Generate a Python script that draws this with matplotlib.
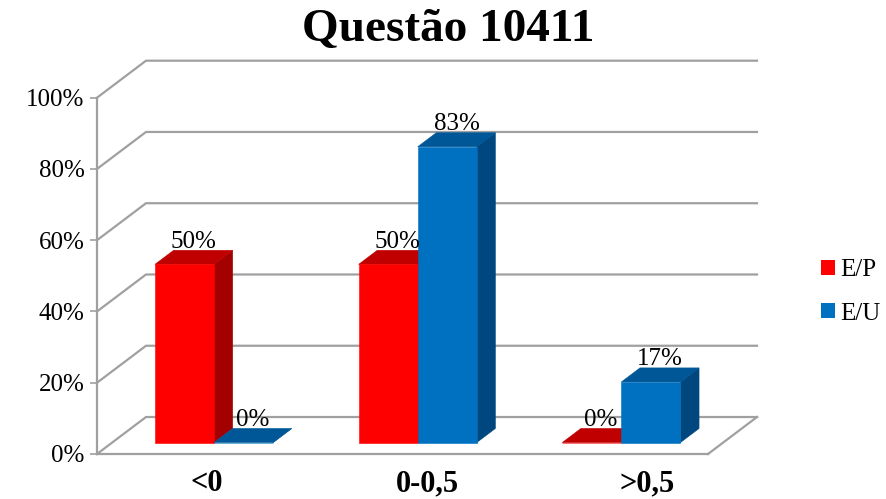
import numpy as np
import matplotlib
matplotlib.use('Agg')
import matplotlib.pyplot as plt
from matplotlib.patches import Polygon, Patch
from matplotlib.ticker import PercentFormatter

plt.rcParams['font.family'] = ['Liberation Serif', 'DejaVu Serif']

# dados
categorias = ['<0', '0-0,5', '>0,5']
series = ['E/P', 'E/U']
valores_ep = [0.50, 0.50, 0.00]
valores_eu = [0.00, 0.83, 0.17]

# cores: frente, lado, topo
cores = {
    'E/P': ('#ff0000', '#a30000', '#c00000'),
    'E/U': ('#0070c0', '#00477f', '#005797'),
}

# projecao obliqua (profundidade em unidades de dados)
DX = 0.2406
DY = 0.1038
D0, D1 = 0.31, 0.69
LARG = 0.29
GRID = '#a0a0a0'


def proj(x, z, d):
    return (x + d * DX, z + d * DY)


fig = plt.figure(figsize=(8.87, 4.99), dpi=100)
W, H = 887, 499
ax = fig.add_axes([97 / W, (H - 454) / H, 660 / W, 393.3 / H])
ax.set_xlim(0, 3 + DX)
ax.set_ylim(0, 1 + DY)
ax.patch.set_alpha(0)

# paredes / grade
niveis = np.arange(0, 1.01, 0.2)
for v in niveis:
    pts = [proj(0, v, 0), proj(0, v, 1), proj(3, v, 1)]
    ax.plot(*zip(*pts), color=GRID, lw=1.6, clip_on=False, zorder=1,
            solid_joinstyle='miter')
# borda direita do piso
ax.plot(*zip(proj(3, 0, 0), proj(3, 0, 1)), color=GRID, lw=1.6,
        clip_on=False, zorder=1)

for s in ['top', 'right']:
    ax.spines[s].set_visible(False)
ax.spines['left'].set_bounds(0, 1)
ax.spines['bottom'].set_bounds(0, 3)
for s in ['left', 'bottom']:
    ax.spines[s].set_color(GRID)
    ax.spines[s].set_linewidth(1.6)

ax.set_yticks(niveis)
ax.yaxis.set_major_formatter(PercentFormatter(1.0, decimals=0))
ax.tick_params(axis='y', direction='out', length=5, width=1.2, color=GRID,
               labelsize=18, pad=4)
# rotulos das categorias repartidos pela largura total projetada
n = len(categorias)
ax.set_xticks((np.arange(n) + 0.5) * (n + DX) / n)
ax.set_xticklabels(categorias, fontsize=22, fontweight='bold')
ax.tick_params(axis='x', length=0, pad=11)


def barra(x0, v, nome):
    frente, lado, topo = cores[nome]
    x1 = x0 + LARG
    faces = [
        ([proj(x1, 0, D0), proj(x1, 0, D1), proj(x1, v, D1), proj(x1, v, D0)], lado),
        ([proj(x0, v, D0), proj(x1, v, D0), proj(x1, v, D1), proj(x0, v, D1)], topo),
        ([proj(x0, 0, D0), proj(x1, 0, D0), proj(x1, v, D0), proj(x0, v, D0)], frente),
    ]
    for pts, c in faces:
        ax.add_patch(Polygon(pts, closed=True, facecolor=c, edgecolor=c,
                             lw=0.4, zorder=3, clip_on=False))
    cx, _ = proj((x0 + x1) / 2, v, 0.5 * (D0 + D1))
    _, ty = proj(0, v, D1)
    ax.annotate(f'{v * 100:.0f}%', (cx, ty), xytext=(0, 2),
                textcoords='offset points', ha='center', va='baseline',
                fontsize=18, zorder=5)


for i in range(n):
    inicio = i + 0.5 - LARG
    barra(inicio, valores_ep[i], 'E/P')
    barra(inicio + LARG, valores_eu[i], 'E/U')

# titulo
fig.text(448 / W, 1 - 30 / H, 'Questão 10411', ha='center', va='center',
         fontsize=34, fontweight='bold')

# legenda
handles = [Patch(facecolor=cores[s][0], edgecolor='none', label=s) for s in series]
fig.legend(handles=handles, loc='center left', bbox_to_anchor=(821 / W, 1 - 292 / H),
           frameon=False, fontsize=18, handlelength=0.56, handleheight=0.56,
           handletextpad=0.22, labelspacing=0.85, borderpad=0, borderaxespad=0)

fig.savefig('out.png', dpi=100)
